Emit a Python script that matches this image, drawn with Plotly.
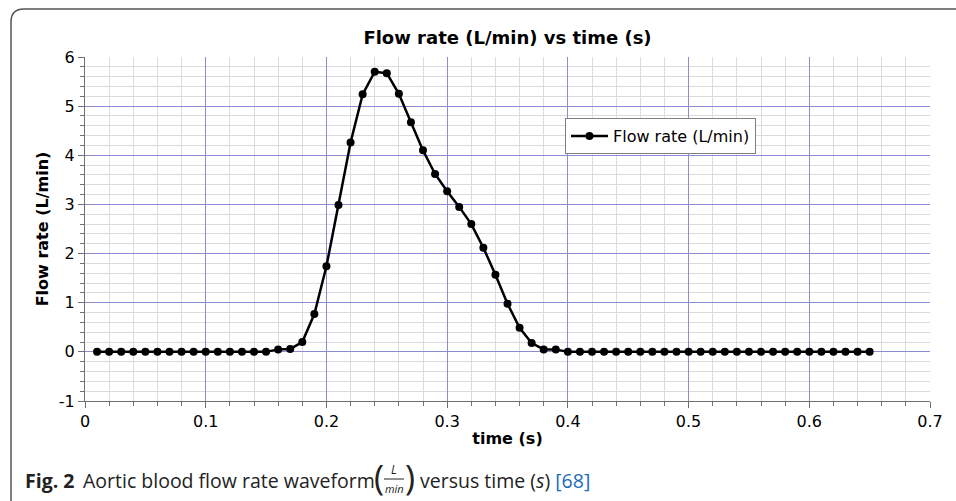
import plotly.graph_objects as go

# ---- data ----
time_s = [round(0.01 * i, 2) for i in range(1, 66)]
flow_rate = [0.0] * 15 + [
    0.05, 0.06, 0.20, 0.77, 1.74, 2.99, 4.26, 5.24, 5.70, 5.67,
    5.25, 4.67, 4.10, 3.62, 3.27, 2.95, 2.60, 2.12, 1.57, 0.98,
    0.49, 0.18, 0.05, 0.05,
] + [0.0] * 26
x_ticks = [0, 0.1, 0.2, 0.3, 0.4, 0.5, 0.6, 0.7]
x_tick_labels = ["0", "0.1", "0.2", "0.3", "0.4", "0.5", "0.6", "0.7"]
y_ticks = [-1, 0, 1, 2, 3, 4, 5, 6]
y_tick_labels = ["-1", "0", "1", "2", "3", "4", "5", "6"]

W, H = 956, 501
L, R, T, B = 85, 26, 57, 100
PW, PH = W - L - R, H - T - B


def px(xp):
    return (xp - L) / PW


def py(yp):
    return (H - B - yp) / PH


MAJOR = "#8c8cd2"
MINOR = "#dcdcdc"
AXIS = "#707070"
FONT = "DejaVu Sans"

fig = go.Figure()
fig.add_trace(go.Scatter(
    x=time_s, y=flow_rate, mode="lines+markers", name="Flow rate (L/min)",
    line=dict(color="black", width=2.5),
    marker=dict(color="black", size=8),
))

fig.update_layout(
    width=W, height=H,
    margin=dict(l=L, r=R, t=T, b=B),
    paper_bgcolor="white", plot_bgcolor="white",
    title=dict(text="<b>Flow rate (L/min) vs time (s)</b>", xref="paper", x=0.5, xanchor="center",
               yref="container", y=1 - 38 / H, yanchor="middle",
               font=dict(family=FONT, size=18, color="black")),
    showlegend=True,
    legend=dict(x=px(565), y=py(118), xanchor="left", yanchor="top",
                bgcolor="white", bordercolor="#808080", borderwidth=1, itemwidth=37,
                font=dict(family=FONT, size=16, color="black")),
    font=dict(family=FONT, color="black"),
)

fig.update_xaxes(
    range=[0, 0.7], tickvals=x_ticks, ticktext=x_tick_labels,
    showgrid=True, gridcolor=MAJOR, gridwidth=1, zeroline=False,
    showline=True, linecolor=AXIS, linewidth=1,
    ticks="outside", ticklen=6, tickcolor=AXIS,
    tickfont=dict(family=FONT, size=16),
    minor=dict(dtick=0.02, showgrid=True, gridcolor=MINOR, ticks="outside", ticklen=4, tickcolor=AXIS),
    title=dict(text="<b>time (s)</b>", font=dict(family=FONT, size=16), standoff=2),
)
fig.update_yaxes(
    range=[-1, 6], tickvals=y_ticks, ticktext=y_tick_labels,
    showgrid=True, gridcolor=MAJOR, gridwidth=1, zeroline=False,
    showline=True, linecolor=AXIS, linewidth=1,
    ticks="outside", ticklen=6, tickcolor=AXIS,
    tickfont=dict(family=FONT, size=16),
    minor=dict(dtick=0.2, showgrid=True, gridcolor=MINOR, ticks="outside", ticklen=4, tickcolor=AXIS),
    title=dict(text="<b>Flow rate (L/min)</b>", font=dict(family=FONT, size=16), standoff=6),
)

# rounded frame around the figure
path = (f"M {px(11)},{py(501)} L {px(11)},{py(22)} "
        f"Q {px(11)},{py(9)} {px(24)},{py(9)} L {px(956)},{py(9)}")
fig.add_shape(type="path", path=path, xref="paper", yref="paper",
              line=dict(color="#555555", width=1.5))

# caption
CAP = "Open Sans"
CC = "#222222"


def note(text, x, y, size, anchor="left"):
    fig.add_annotation(text=text, x=px(x), y=py(y), xref="paper", yref="paper",
                       xanchor=anchor, yanchor="middle", showarrow=False, borderpad=0,
                       font=dict(family=CAP, size=size, color=CC))


note("<b>Fig. 2</b>", 24, 480, 19.5)
note("Aortic blood flow rate waveform", 82, 480, 19.5)
note("(", 379, 477, 34, "center")
note(")", 410, 477, 34, "center")
note("<i>L</i>", 394, 470, 12, "center")
note("<i>min</i>", 394, 488, 11, "center")
fig.add_shape(type="line", xref="paper", yref="paper", x0=px(384), x1=px(404),
              y0=py(479), y1=py(479), line=dict(color=CC, width=1))
note("versus time (<i>s</i>) <span style='color:#1a6bb8'>[68]</span>", 419, 480, 19.5)

fig.write_html("out.html")
